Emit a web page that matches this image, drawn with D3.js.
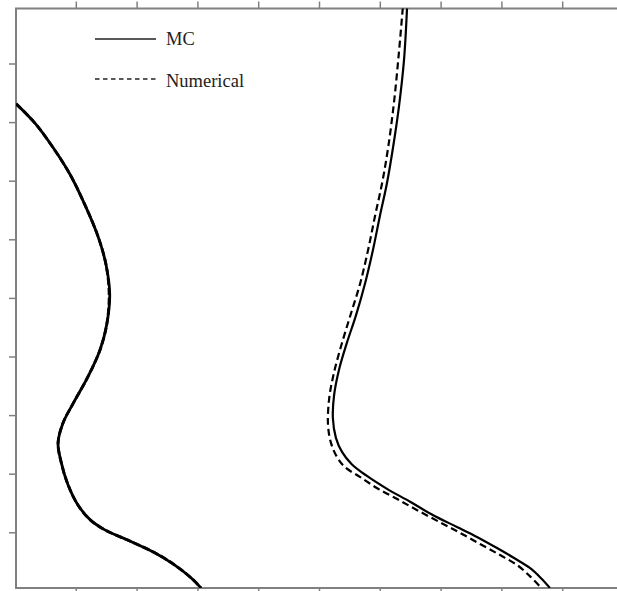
<!DOCTYPE html>
<html>
<head>
<meta charset="utf-8">
<script src="https://cdn.jsdelivr.net/npm/d3@7"></script>
<style>
  html, body { margin: 0; padding: 0; background: #fff; overflow: hidden; }
  svg { display: block; }
</style>
</head>
<body>
<svg id="chart" width="617" height="591"></svg>
<script>
// ---- data (x, depth) ----
const xTicks = [0, 1, 2, 3, 4, 5, 6, 7, 8, 9, 10];
const yTicks = [0, 1, 2, 3, 4, 5, 6, 7, 8, 9, 10];
const seriesNames = ["MC", "Numerical"];

const leftMCx = [0.01, 0.32, 0.62, 0.90, 1.14, 1.36, 1.49, 1.55, 1.50, 1.39, 1.19, 0.96, 0.78, 0.70, 0.75, 0.86, 1.03, 1.23, 1.47, 1.88, 2.29, 2.62, 2.89, 3.05];
const leftMCy = [8.32, 7.99, 7.57, 7.11, 6.60, 6.05, 5.57, 5.06, 4.55, 4.12, 3.66, 3.23, 2.87, 2.53, 2.21, 1.83, 1.47, 1.22, 1.05, 0.86, 0.66, 0.45, 0.23, 0.06];
const leftNumx = [0.01, 0.32, 0.62, 0.90, 1.14, 1.36, 1.49, 1.54, 1.50, 1.39, 1.19, 0.96, 0.78, 0.70, 0.75, 0.86, 1.03, 1.23, 1.47, 1.88, 2.29, 2.62, 2.89, 3.05];
const leftNumy = [8.32, 7.99, 7.57, 7.11, 6.60, 6.05, 5.57, 5.06, 4.55, 4.12, 3.66, 3.23, 2.87, 2.53, 2.21, 1.83, 1.47, 1.22, 1.05, 0.86, 0.66, 0.45, 0.23, 0.06];

const rightMCx = [6.44, 6.39, 6.31, 6.21, 6.11, 5.99, 5.88, 5.75, 5.60, 5.45, 5.32, 5.24, 5.22, 5.27, 5.37, 5.53, 5.78, 6.11, 6.49, 6.87, 7.26, 7.59, 7.92, 8.20, 8.46, 8.64, 8.79];
const rightMCy = [9.96, 9.07, 8.30, 7.58, 6.97, 6.39, 5.83, 5.26, 4.71, 4.24, 3.78, 3.35, 2.96, 2.62, 2.38, 2.17, 1.97, 1.75, 1.53, 1.30, 1.10, 0.93, 0.74, 0.57, 0.40, 0.23, 0.06];
const rightNumx = [6.37, 6.31, 6.23, 6.13, 6.03, 5.91, 5.80, 5.67, 5.52, 5.37, 5.24, 5.16, 5.14, 5.19, 5.29, 5.42, 5.67, 5.95, 6.27, 6.60, 6.98, 7.31, 7.64, 7.97, 8.25, 8.46, 8.63];
const rightNumy = [9.96, 9.24, 8.39, 7.58, 6.97, 6.39, 5.83, 5.26, 4.75, 4.24, 3.74, 3.30, 2.84, 2.53, 2.29, 2.12, 1.95, 1.76, 1.58, 1.39, 1.18, 1.00, 0.81, 0.62, 0.45, 0.26, 0.08];

// ---- layout ----
const svg = d3.select("#chart");
const frame = { left: 16, top: 8.5, right: 640, bottom: 588 };
const x = d3.scaleLinear().domain([0, 10]).range([15.5, 623.5]);
const y = d3.scaleLinear().domain([0, 10]).range([591.4, 5.4]);

const axisColor = "#808080";

svg.append("defs").append("clipPath").attr("id", "clip")
  .append("rect")
  .attr("x", frame.left).attr("y", frame.top)
  .attr("width", frame.right - frame.left).attr("height", frame.bottom - frame.top);

// ticks (outward)
const tickLen = 7;
const visX = xTicks.filter(t => x(t) > frame.left + 1 && x(t) < 617);
const visY = yTicks.filter(t => y(t) > frame.top + 1 && y(t) < frame.bottom - 1);

svg.append("g").selectAll("line").data(visX).join("line")
  .attr("x1", d => x(d)).attr("x2", d => x(d))
  .attr("y1", frame.top).attr("y2", frame.top - tickLen)
  .attr("stroke", axisColor).attr("stroke-width", 1.5);
svg.append("g").selectAll("line").data(visX).join("line")
  .attr("x1", d => x(d)).attr("x2", d => x(d))
  .attr("y1", frame.bottom).attr("y2", frame.bottom + tickLen)
  .attr("stroke", axisColor).attr("stroke-width", 1.5);
svg.append("g").selectAll("line").data(visY).join("line")
  .attr("x1", frame.left).attr("x2", frame.left - tickLen)
  .attr("y1", d => y(d)).attr("y2", d => y(d))
  .attr("stroke", axisColor).attr("stroke-width", 1.5);

// frame
svg.append("path")
  .attr("d", `M${frame.right},${frame.top}H${frame.left}V${frame.bottom}H${frame.right}`)
  .attr("fill", "none").attr("stroke", axisColor).attr("stroke-width", 2);

// curves
const line = d3.line().x(d => x(d[0])).y(d => y(d[1])).curve(d3.curveCatmullRom.alpha(0.5));
const zip = (a, b) => a.map((v, i) => [v, b[i]]);

const g = svg.append("g").attr("clip-path", "url(#clip)");
g.append("path").datum(zip(leftNumx, leftNumy)).attr("d", line)
  .attr("fill", "none").attr("stroke", "#000").attr("stroke-width", 2.8).attr("stroke-dasharray", "7,3");
g.append("path").datum(zip(leftMCx, leftMCy)).attr("d", line)
  .attr("fill", "none").attr("stroke", "#000").attr("stroke-width", 2.8);
g.append("path").datum(zip(rightNumx, rightNumy)).attr("d", line)
  .attr("fill", "none").attr("stroke", "#000").attr("stroke-width", 2.2).attr("stroke-dasharray", "7,4");
g.append("path").datum(zip(rightMCx, rightMCy)).attr("d", line)
  .attr("fill", "none").attr("stroke", "#000").attr("stroke-width", 2.2);

// legend
const legend = svg.append("g");
const legItems = [
  { name: seriesNames[0], dash: null, ly: 39, ty: 44.5 },
  { name: seriesNames[1], dash: "4.5,3.5", ly: 79, ty: 86.5 }
];
legItems.forEach(it => {
  legend.append("line")
    .attr("x1", 95).attr("x2", 156).attr("y1", it.ly).attr("y2", it.ly)
    .attr("stroke", "#222").attr("stroke-width", 1.5)
    .attr("stroke-dasharray", it.dash);
  legend.append("text")
    .attr("x", 166).attr("y", it.ty)
    .attr("font-family", "'Liberation Serif', 'Times New Roman', serif")
    .attr("font-size", 18.5).attr("fill", "#222")
    .text(it.name);
});
</script>
</body>
</html>
